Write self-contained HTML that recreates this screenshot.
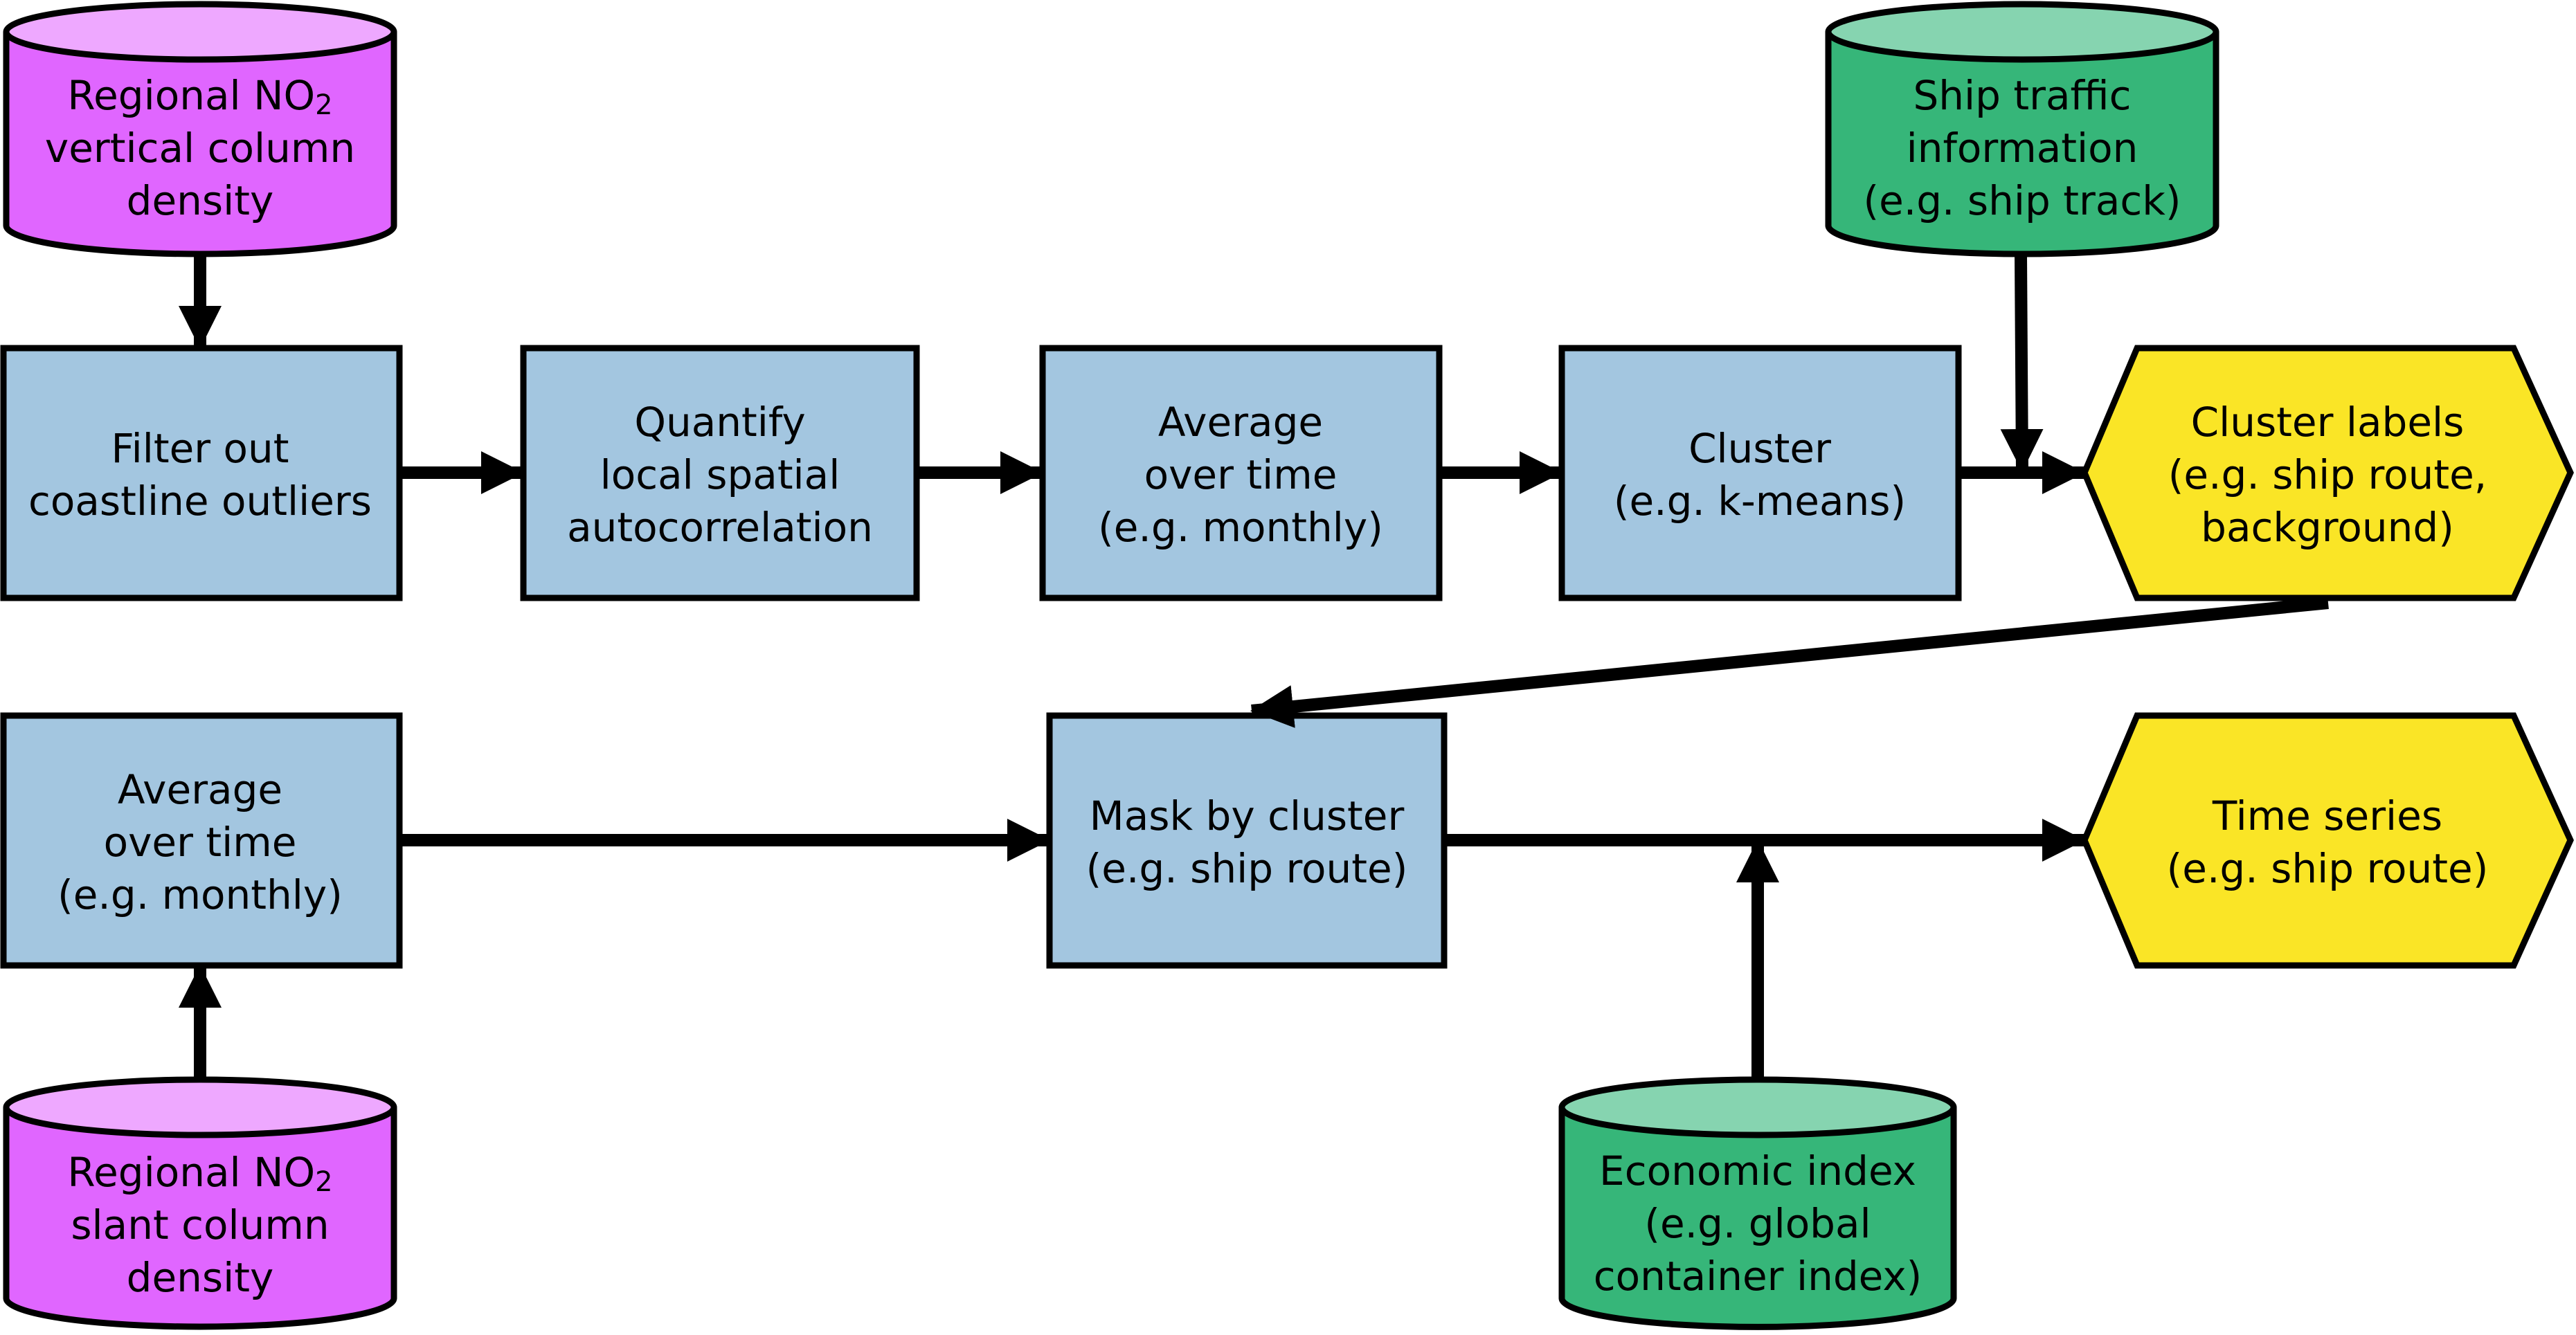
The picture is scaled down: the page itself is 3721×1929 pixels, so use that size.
<!DOCTYPE html>
<html><head><meta charset="utf-8"><style>
html,body{margin:0;padding:0;background:#fff;}
svg{display:block;}
text{font-family:"DejaVu Sans","Liberation Sans",sans-serif;font-size:58px;fill:#000;text-anchor:middle;dominant-baseline:central;}
</style></head><body>
<svg width="3721" height="1929" viewBox="0 0 3721 1929" xmlns="http://www.w3.org/2000/svg">
<defs>
<marker id="ah" markerUnits="userSpaceOnUse" markerWidth="62" markerHeight="62" refX="60" refY="31" orient="auto">
<path d="M0,0 L62,31 L0,62 Z" fill="#000"/>
</marker>
</defs>
<g stroke="#000" stroke-width="9">
<path d="M9,46 L9,326 A280,41 0 0 0 569,326 L569,46" fill="#E066FF"/>
<ellipse cx="289" cy="46" rx="280" ry="40" fill="#EEA8FF"/>
<path d="M2641,46 L2641,326 A280,41 0 0 0 3201,326 L3201,46" fill="#36B679"/>
<ellipse cx="2921" cy="46" rx="280" ry="40" fill="#86D4B0"/>
<path d="M9,1600 L9,1876 A280,41 0 0 0 569,1876 L569,1600" fill="#E066FF"/>
<ellipse cx="289" cy="1600" rx="280" ry="40" fill="#EEA8FF"/>
<path d="M2256,1600 L2256,1876 A280,41 0 0 0 2822,1876 L2822,1600" fill="#36B679"/>
<ellipse cx="2539" cy="1600" rx="283" ry="40" fill="#86D4B0"/>
<rect x="5" y="503" width="572" height="361" fill="#A3C6E0"/>
<rect x="756" y="503" width="568" height="361" fill="#A3C6E0"/>
<rect x="1506" y="503" width="573" height="361" fill="#A3C6E0"/>
<rect x="2256" y="503" width="573" height="361" fill="#A3C6E0"/>
<rect x="5" y="1034" width="572" height="361" fill="#A3C6E0"/>
<rect x="1516" y="1034" width="570" height="361" fill="#A3C6E0"/>
<polygon points="3011,683 3087,503 3631,503 3713,683 3631,864 3087,864" fill="#FAE526"/>
<polygon points="3011,1214 3087,1034 3631,1034 3713,1214 3631,1395 3087,1395" fill="#FAE526"/>
</g>
<g stroke="#000" stroke-width="18" fill="none">
<line x1="289" y1="368" x2="289" y2="502" marker-end="url(#ah)"/>
<line x1="577" y1="683" x2="755" y2="683" marker-end="url(#ah)"/>
<line x1="1324" y1="683" x2="1505" y2="683" marker-end="url(#ah)"/>
<line x1="2079" y1="683" x2="2255" y2="683" marker-end="url(#ah)"/>
<line x1="2829" y1="683" x2="3010" y2="683" marker-end="url(#ah)"/>
<line x1="2919" y1="369" x2="2921" y2="680" marker-end="url(#ah)"/>
<line x1="3363" y1="871" x2="1808" y2="1027" marker-end="url(#ah)"/>
<line x1="577" y1="1214" x2="1515" y2="1214" marker-end="url(#ah)"/>
<line x1="2086" y1="1214" x2="3010" y2="1214" marker-end="url(#ah)"/>
<line x1="289" y1="1561" x2="289" y2="1396" marker-end="url(#ah)"/>
<line x1="2539" y1="1561" x2="2539" y2="1215" marker-end="url(#ah)"/>
</g>
<text x="289" y="138">Regional NO<tspan font-size="40" dy="14">2</tspan></text>
<text x="289" y="214">vertical column</text>
<text x="289" y="290">density</text>
<text x="2921" y="138">Ship traffic</text>
<text x="2921" y="214">information</text>
<text x="2921" y="290">(e.g. ship track)</text>
<text x="289" y="648">Filter out</text>
<text x="289" y="724">coastline outliers</text>
<text x="1040" y="610">Quantify</text>
<text x="1040" y="686">local spatial</text>
<text x="1040" y="762">autocorrelation</text>
<text x="1792" y="610">Average</text>
<text x="1792" y="686">over time</text>
<text x="1792" y="762">(e.g. monthly)</text>
<text x="2542" y="648">Cluster</text>
<text x="2542" y="724">(e.g. k-means)</text>
<text x="3362" y="610">Cluster labels</text>
<text x="3362" y="686">(e.g. ship route,</text>
<text x="3362" y="762">background)</text>
<text x="289" y="1141">Average</text>
<text x="289" y="1217">over time</text>
<text x="289" y="1293">(e.g. monthly)</text>
<text x="1801" y="1179">Mask by cluster</text>
<text x="1801" y="1255">(e.g. ship route)</text>
<text x="3362" y="1179">Time series</text>
<text x="3362" y="1255">(e.g. ship route)</text>
<text x="289" y="1694">Regional NO<tspan font-size="40" dy="14">2</tspan></text>
<text x="289" y="1770">slant column</text>
<text x="289" y="1846">density</text>
<text x="2539" y="1692">Economic index</text>
<text x="2539" y="1768">(e.g. global</text>
<text x="2539" y="1844">container index)</text>
</svg>
</body></html>
